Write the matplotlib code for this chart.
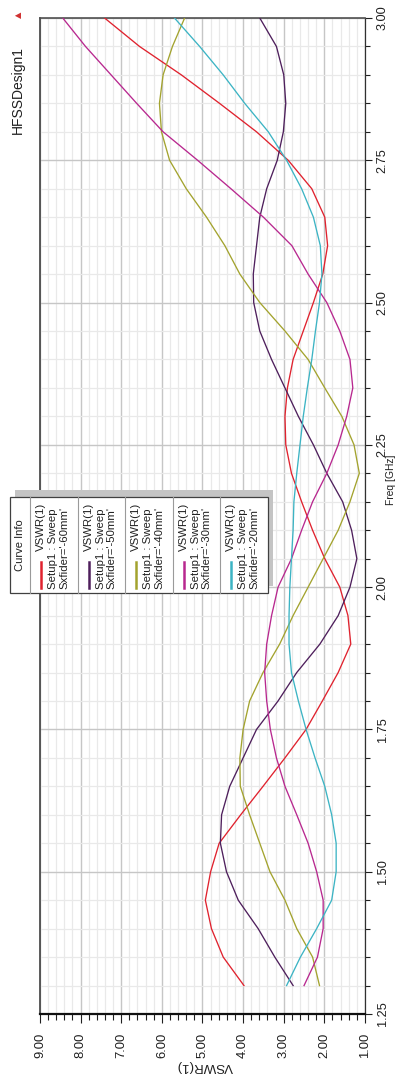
import matplotlib
matplotlib.use('Agg')
import matplotlib.pyplot as plt
from matplotlib.ticker import MultipleLocator, FormatStrFormatter
from matplotlib.patches import Rectangle
from matplotlib.lines import Line2D

plt.rcParams['font.family'] = ['Liberation Sans', 'DejaVu Sans']

# ---------------- data ----------------
freq_ghz = [1.30, 1.35, 1.40, 1.45, 1.50, 1.55, 1.60, 1.65, 1.70, 1.75,
            1.80, 1.85, 1.90, 1.95, 2.00, 2.05, 2.10, 2.15, 2.20, 2.25,
            2.30, 2.35, 2.40, 2.45, 2.50, 2.55, 2.60, 2.65, 2.70, 2.75,
            2.80, 2.85, 2.90, 2.95, 3.00]

vswr_60mm = [3.98, 4.49, 4.78, 4.93, 4.80, 4.59, 4.06, 3.51, 2.97, 2.45,
             2.05, 1.66, 1.35, 1.42, 1.62, 1.99, 2.29, 2.56, 2.81, 2.95,
             2.97, 2.91, 2.77, 2.52, 2.27, 2.04, 1.92, 1.99, 2.31, 2.89,
             3.67, 4.58, 5.52, 6.55, 7.41]

vswr_50mm = [2.77, 3.22, 3.63, 4.12, 4.41, 4.56, 4.53, 4.33, 4.00, 3.67,
             3.14, 2.68, 2.11, 1.66, 1.37, 1.20, 1.33, 1.55, 1.94, 2.27,
             2.64, 2.97, 3.30, 3.59, 3.74, 3.75, 3.67, 3.59, 3.42, 3.16,
             3.01, 2.95, 3.00, 3.18, 3.59]

vswr_40mm = [2.12, 2.29, 2.68, 2.97, 3.34, 3.59, 3.84, 4.07, 4.08, 4.00,
             3.84, 3.51, 3.10, 2.77, 2.40, 2.03, 1.66, 1.37, 1.14, 1.27,
             1.57, 1.99, 2.40, 2.97, 3.59, 4.08, 4.45, 4.90, 5.40, 5.81,
             6.01, 6.06, 5.97, 5.74, 5.44]

vswr_30mm = [2.50, 2.17, 2.03, 2.03, 2.19, 2.40, 2.68, 2.97, 3.18, 3.33,
             3.42, 3.47, 3.42, 3.30, 3.14, 2.81, 2.56, 2.29, 1.94, 1.66,
             1.45, 1.30, 1.37, 1.62, 1.94, 2.40, 2.80, 3.50, 4.30, 5.12,
             5.97, 6.62, 7.25, 7.88, 8.44]

vswr_20mm = [2.93, 2.59, 2.19, 1.82, 1.71, 1.71, 1.82, 1.99, 2.23, 2.45,
             2.64, 2.81, 2.87, 2.87, 2.85, 2.81, 2.77, 2.75, 2.68, 2.60,
             2.52, 2.42, 2.31, 2.22, 2.12, 2.06, 2.10, 2.27, 2.56, 2.93,
             3.38, 3.96, 4.49, 5.07, 5.69]

series_labels = ["Sxfider='-60mm'", "Sxfider='-50mm'", "Sxfider='-40mm'",
                 "Sxfider='-30mm'", "Sxfider='-20mm'"]
series_values = [vswr_60mm, vswr_50mm, vswr_40mm, vswr_30mm, vswr_20mm]
series_colors = ['#e0222e', '#4e1f5c', '#a3a32e', '#b8288f', '#3cb4c4']

# ---------------- figure ----------------
W, H = 406, 1078
fig = plt.figure(figsize=(W / 100, H / 100), dpi=100)
fig.patch.set_facecolor('white')


def fx(x):
    return x / W


def fy(y):
    return 1 - y / H


ax = fig.add_axes([fx(40), fy(1014), fx(365) - fx(40), fy(18) - fy(1014)])
for vals, col in zip(series_values, series_colors):
    ax.plot(vals, freq_ghz, color=col, lw=0.95, zorder=3)

ax.set_xlim(9, 1)
ax.set_ylim(1.25, 3.0)
ax.xaxis.set_major_locator(MultipleLocator(1))
ax.xaxis.set_minor_locator(MultipleLocator(0.2))
ax.yaxis.set_major_locator(MultipleLocator(0.25))
ax.yaxis.set_minor_locator(MultipleLocator(0.05))
ax.xaxis.set_major_formatter(FormatStrFormatter('%.2f'))
ax.yaxis.set_major_formatter(FormatStrFormatter('%.2f'))
ax.yaxis.tick_right()

ax.set_axisbelow(True)
ax.grid(which='major', color='#c6c6c6', lw=1.0)
ax.grid(which='minor', color='#e9e9e9', lw=0.9)

ax.tick_params(axis='x', which='major', direction='out', length=6.5, width=0.8,
               labelrotation=90, labelsize=9.4, pad=7, colors='#202020')
ax.tick_params(axis='x', which='minor', direction='out', length=4.3, width=0.8,
               colors='#202020')
ax.tick_params(axis='y', which='major', direction='out', length=5, width=0.8,
               labelrotation=90, labelsize=9.2, pad=3.5, colors='#202020',
               left=False, right=True)
ax.tick_params(axis='y', which='minor', direction='out', length=3.6, width=0.8,
               left=False, right=True, colors='#202020')
for lab in ax.get_yticklabels():
    lab.set_verticalalignment('center')

ax.spines['bottom'].set_linewidth(1.6)
ax.spines['bottom'].set_color('#101010')
ax.spines['left'].set_linewidth(1.2)
ax.spines['left'].set_color('#404040')
ax.spines['top'].set_linewidth(1.2)
ax.spines['top'].set_color('#505050')
ax.spines['right'].set_linewidth(0.9)
ax.spines['right'].set_color('#303030')

# axis titles and annotations
fig.text(fx(205), fy(1066), 'VSWR(1)', rotation=180, ha='center', va='center',
         fontsize=9.5, color='#202020')
fig.text(fx(391), fy(480), 'Freq [GHz]', rotation=90, ha='center', va='center',
         fontsize=7.4, color='#202020')
fig.text(fx(18), fy(90), 'HFSSDesign1', rotation=90, ha='center', va='center',
         fontsize=10, color='#202020')
fig.text(fx(18), fy(15), '\u25B2', rotation=90, ha='center', va='center',
         fontsize=6, color='#d03030', family=['DejaVu Sans'])

# ---------------- legend (Curve Info) ----------------
L, R, T, B = 10, 268, 497, 593
shadow = Rectangle((fx(L + 5), fy(B - 7)), fx(R + 5) - fx(L + 5), fy(T - 7) - fy(B - 7),
                   transform=fig.transFigure, facecolor='#c4c4c4', edgecolor='none',
                   zorder=10)
fig.add_artist(shadow)
box = Rectangle((fx(L), fy(B)), fx(R) - fx(L), fy(T) - fy(B),
                transform=fig.transFigure, facecolor='white', edgecolor='#404040',
                lw=0.9, zorder=11)
fig.add_artist(box)

head_right = 30
fig.text(fx(20), fy(545), 'Curve Info', rotation=90, ha='center', va='center',
         fontsize=8, color='#202020', zorder=12)

entry_w = (R - head_right) / len(series_labels)
for i, (lab, col) in enumerate(zip(series_labels, series_colors)):
    s = head_right + i * entry_w
    sep = Line2D([fx(s), fx(s)], [fy(B), fy(T)], transform=fig.transFigure,
                 color='#9a9a9a', lw=0.8, zorder=12)
    fig.add_artist(sep)
    sw = Line2D([fx(s + 11), fx(s + 11)], [fy(588), fy(562)], transform=fig.transFigure,
                color=col, lw=1.8, zorder=12)
    fig.add_artist(sw)
    fig.text(fx(s + 11), fy(551), 'VSWR(1)', rotation=90, ha='center', va='bottom',
             fontsize=8.2, color='#202020', zorder=12)
    fig.text(fx(s + 23), fy(589), 'Setup1 : Sweep', rotation=90, ha='center', va='bottom',
             fontsize=8.2, color='#202020', zorder=12)
    fig.text(fx(s + 34), fy(589), lab, rotation=90, ha='center', va='bottom',
             fontsize=8.2, color='#202020', zorder=12)

fig.savefig('out.png', dpi=100, facecolor='white')
